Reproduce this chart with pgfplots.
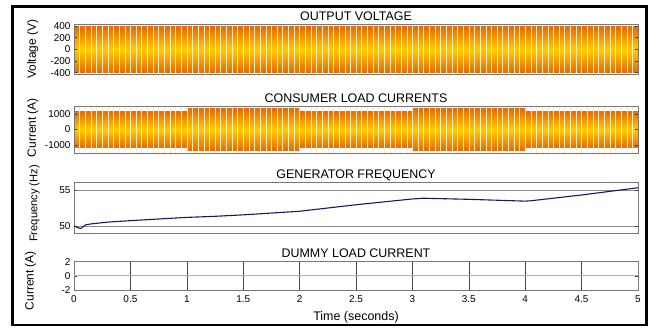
\documentclass[border=0pt]{standalone}
\usepackage{pgfplots}
\pgfplotsset{compat=1.18}
\usepackage{fontspec}
\setmainfont{Liberation Sans}
\definecolor{bandor}{RGB}{230,104,10}
\definecolor{bandye}{RGB}{255,205,0}
\definecolor{stripe}{RGB}{255,238,185}
\definecolor{freqc}{RGB}{25,25,95}
\definecolor{dummyc}{RGB}{215,180,40}
\definecolor{boxc}{RGB}{120,120,120}
\pgfplotsset{
  every axis/.append style={
    scale only axis, width=564bp, xmin=0, xmax=5, anchor=south west,
    axis line style={boxc, line width=0.7bp},
    tick style={black!75, line width=0.5bp},
    major tick length=3bp,
    scaled y ticks=false,
    /pgf/number format/assume math mode=true,
    /pgf/number format/1000 sep={},
    tick label style={font=\fontsize{10}{12}\selectfont},
  },
  every axis title/.style={font=\fontsize{12.5}{14}\selectfont, at={(0.5,1)}, anchor=base, inner sep=0pt, yshift=3.8bp},
  every axis y label/.style={font=\fontsize{12}{14}\selectfont, at={(axis description cs:-0.073,0.5)}, anchor=center, rotate=90},
}
\begin{document}
\begin{tikzpicture}
\path (0,0) rectangle (657bp,329bp);
% OUTPUT VOLTAGE
\begin{axis}[at={(74bp,254.3bp)}, height=50.7bp, ymin=-435, ymax=435,
  ytick={-400,-200,0,200,400},
  xtick={0,0.05,...,5.01}, xticklabels={}, xtick style={draw=none},
  xmajorgrids, major grid style={stripe, line width=0.4bp},
  axis on top, title={OUTPUT VOLTAGE}, ylabel={Voltage (V)}]
\addplot[draw=none, top color=bandor, bottom color=bandor, middle color=bandye]
  coordinates {(0,400) (5,400) (5,-400) (0,-400)};
\end{axis}
% CONSUMER LOAD CURRENTS
\begin{axis}[at={(74bp,176bp)}, height=47bp, ymin=-1500, ymax=1500,
  ytick={-1000,0,1000},
  xtick={0,0.05,...,5.01}, xticklabels={}, xtick style={draw=none},
  xmajorgrids, major grid style={stripe, line width=0.4bp},
  axis on top, title={CONSUMER LOAD CURRENTS}, ylabel={Current (A)},
  ylabel style={at={(axis description cs:-0.073,0.54)}}]
\addplot[draw=none, top color=bandor, bottom color=bandor, middle color=bandye]
  coordinates {(0,1170) (1,1170) (1,-1170) (0,-1170)};
\addplot[draw=none, top color=bandor, bottom color=bandor, middle color=bandye]
  coordinates {(1,1360) (2,1360) (2,-1360) (1,-1360)};
\addplot[draw=none, top color=bandor, bottom color=bandor, middle color=bandye]
  coordinates {(2,1170) (3,1170) (3,-1170) (2,-1170)};
\addplot[draw=none, top color=bandor, bottom color=bandor, middle color=bandye]
  coordinates {(3,1360) (4,1360) (4,-1360) (3,-1360)};
\addplot[draw=none, top color=bandor, bottom color=bandor, middle color=bandye]
  coordinates {(4,1170) (5,1170) (5,-1170) (4,-1170)};
\end{axis}
% GENERATOR FREQUENCY
\begin{axis}[at={(74bp,95.7bp)}, height=50.6bp, ymin=49, ymax=56,
  ytick={50,55}, xtick=\empty,
  ymajorgrids, major grid style={black!45, line width=0.5bp},
  title={GENERATOR FREQUENCY}, ylabel={Frequency (Hz)},
  ylabel style={font=\fontsize{11.2}{13}\selectfont, at={(axis description cs:-0.07,0.59)}}]
\addplot[freqc, line width=1.1bp] coordinates {
 (0,50.05) (0.03,49.8) (0.06,49.65) (0.1,50.15) (0.15,50.3) (0.3,50.55)
 (0.5,50.75) (0.75,50.98) (1.0,51.2) (1.25,51.35) (1.5,51.55) (1.75,51.8)
 (2.0,52.05) (2.25,52.5) (2.5,52.95) (2.75,53.35) (3.0,53.75) (3.1,53.85)
 (3.5,53.7) (4.0,53.45) (4.05,53.5) (4.5,54.3) (5.0,55.3)};
\end{axis}
% DUMMY LOAD CURRENT
\begin{axis}[at={(74bp,39bp)}, height=28.3bp, ymin=-2, ymax=2,
  ytick={-2,0,2},
  xtick={0,0.5,1,1.5,2,2.5,3,3.5,4,4.5,5},
  xticklabels={0,0.5,1,1.5,2,2.5,3,3.5,4,4.5,5},
  xticklabel style={yshift=-2bp},
  xmajorgrids, major grid style={black!70, line width=0.5bp},
  title={DUMMY LOAD CURRENT}, ylabel={Current (A)},
  ylabel style={at={(axis description cs:-0.077,0.33)}},
  xlabel={Time (seconds)},
  xlabel style={font=\fontsize{12.5}{14}\selectfont, at={(axis description cs:0.5,0)}, anchor=base, yshift=-30bp}]
\addplot[dummyc, line width=0.8bp] coordinates {(0,0) (5,0)};
\end{axis}
\draw[line width=2.8bp] (12.8bp,4bp) rectangle (646.7bp,322.8bp);
\end{tikzpicture}
\end{document}
